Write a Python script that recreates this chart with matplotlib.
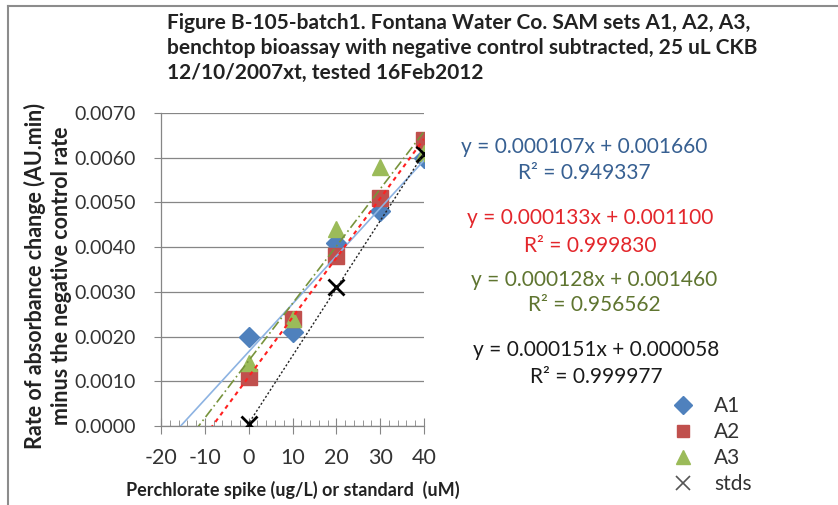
import matplotlib
matplotlib.use('Agg')
import numpy as np
import matplotlib.pyplot as plt
from matplotlib.lines import Line2D

plt.rcParams['font.family'] = ['Lato', 'DejaVu Sans']
plt.rcParams['axes.unicode_minus'] = False

x_a = [0, 10, 20, 30, 40]
a1 = [0.0020, 0.0021, 0.0041, 0.0048, 0.0060]
a2 = [0.0011, 0.0024, 0.0038, 0.0051, 0.0064]
a3 = [0.0014, 0.0024, 0.0044, 0.0058, 0.0061]
x_std = [0, 20, 40]
stds = [0.00005, 0.0031, 0.00609]

series_names = ['A1', 'A2', 'A3', 'stds']
slopes = [0.000107, 0.000133, 0.000128, 0.000151]
intercepts = [0.001660, 0.001100, 0.001460, 0.000058]
r2 = [0.949337, 0.999830, 0.956562, 0.999977]

title = ("Figure B-105-batch1. Fontana Water Co. SAM sets A1, A2, A3,\n"
         "benchtop bioassay with negative control subtracted, 25 uL CKB\n"
         "12/10/2007xt, tested 16Feb2012")

W, H = 838, 505
fig = plt.figure(figsize=(W / 100, H / 100), dpi=100)
ax = fig.add_axes([161 / W, 79 / H, 263 / W, 313 / H])

grey = '#868686'
ax.set_xlim(-20, 40)
ax.set_ylim(0, 0.007)
ax.set_xticks(range(-20, 41, 10))
ax.set_xticks(np.arange(-20, 41, 2), minor=True)
ax.set_yticks(np.arange(0, 0.0071, 0.001))
ax.set_yticklabels([f'{v:.4f}' for v in np.arange(0, 0.0071, 0.001)])
ax.yaxis.grid(True, color=grey, lw=0.9)
ax.set_axisbelow(True)
for s in ['top', 'right']:
    ax.spines[s].set_visible(False)
for s in ['left', 'bottom']:
    ax.spines[s].set_color(grey)
    ax.spines[s].set_linewidth(0.9)
ax.tick_params(axis='x', which='major', direction='inout', length=12, color=grey,
               labelsize=15.5, pad=10, labelcolor='#333333')
ax.tick_params(axis='x', which='minor', direction='in', length=4, color=grey)
ax.tick_params(axis='y', which='major', direction='out', length=5, color=grey,
               labelsize=14, pad=13, labelcolor='#333333')
ax.tick_params(axis='y', which='minor', left=False)

# scatter points
ax.plot(x_a, a1, 'D', color='#4F81BD', ms=10.5, mec='#4F81BD', zorder=3, label='A1')
ax.plot(x_a, a2, 's', color='#C0504D', ms=11, mec='#C0504D', zorder=3, label='A2')
ax.plot(x_a, a3, '^', color='#9BBB59', ms=12, mec='#9BBB59', zorder=3, label='A3')
ax.plot(x_std, stds, 'x', color='black', ms=12, mew=2, zorder=3, label='stds')

# trendlines, forecast back to -20
xl = np.array([-20, 40])
line_styles = [
    dict(color='#8DB3E2', lw=1.2, ls='-'),
    dict(color='#FF2020', lw=1.5, ls=(0, (2, 2))),
    dict(color='#77933C', lw=1.2, ls=(0, (6, 2, 1, 2))),
    dict(color='#222222', lw=1.0, ls=(0, (1.5, 1.5))),
]
for m, b, st in zip(slopes, intercepts, line_styles):
    ax.plot(xl, m * xl + b, zorder=4, **st)

# equations
eq_colors = ['#376092', '#E3262B', '#5F7530', '#1a1a1a']
eq_pos = [(584, 147, 173), (590, 218, 246), (594, 280, 305), (596, 350, 377)]
for m, b, r, c, (px, y1, y2) in zip(slopes, intercepts, r2, eq_colors, eq_pos):
    fig.text(px / W, 1 - y1 / H, f'y = {m:.6f}x + {b:.6f}', color=c, fontsize=15,
             ha='center', va='center')
    fig.text(px / W, 1 - y2 / H, f'R² = {r:.6f}', color=c, fontsize=15,
             ha='center', va='center')

# legend
handles = [
    Line2D([], [], marker='D', ls='', color='#4F81BD', ms=9),
    Line2D([], [], marker='s', ls='', color='#C0504D', ms=9),
    Line2D([], [], marker='^', ls='', color='#9BBB59', ms=10),
    Line2D([], [], marker='x', ls='', color='#555555', ms=10, mew=1.2),
]
fig.legend(handles, series_names, loc='upper left', bbox_to_anchor=(660 / W, 1 - 386 / H),
           frameon=False, fontsize=15, handlelength=1.2, handletextpad=0.9,
           labelspacing=0.28, labelcolor='#333333', borderpad=0)

fig.text(167 / W, 1 - 13 / H, title, fontsize=15, fontweight='bold', ha='left',
         va='top', linespacing=1.3, color='#222222')
ax.set_xlabel('Perchlorate spike (ug/L) or standard  (uM)', fontsize=13,
              fontweight='bold', labelpad=9, color='#222222')
fig.text(48 / W, 1 - 276 / H,
         'Rate of absorbance change (AU.min)\nminus the negative control rate',
         fontsize=15.5, fontweight='bold', rotation=90, ha='center', va='center',
         multialignment='center', linespacing=1.3, color='#222222')

# outer frame (cut off at right and bottom)
fig.add_artist(Line2D([8 / W, 1], [1 - 6 / H, 1 - 6 / H], color='#8c8c8c', lw=1.5))
fig.add_artist(Line2D([8 / W, 8 / W], [0, 1 - 6 / H], color='#8c8c8c', lw=1.5))

fig.savefig('out.png', dpi=100)
